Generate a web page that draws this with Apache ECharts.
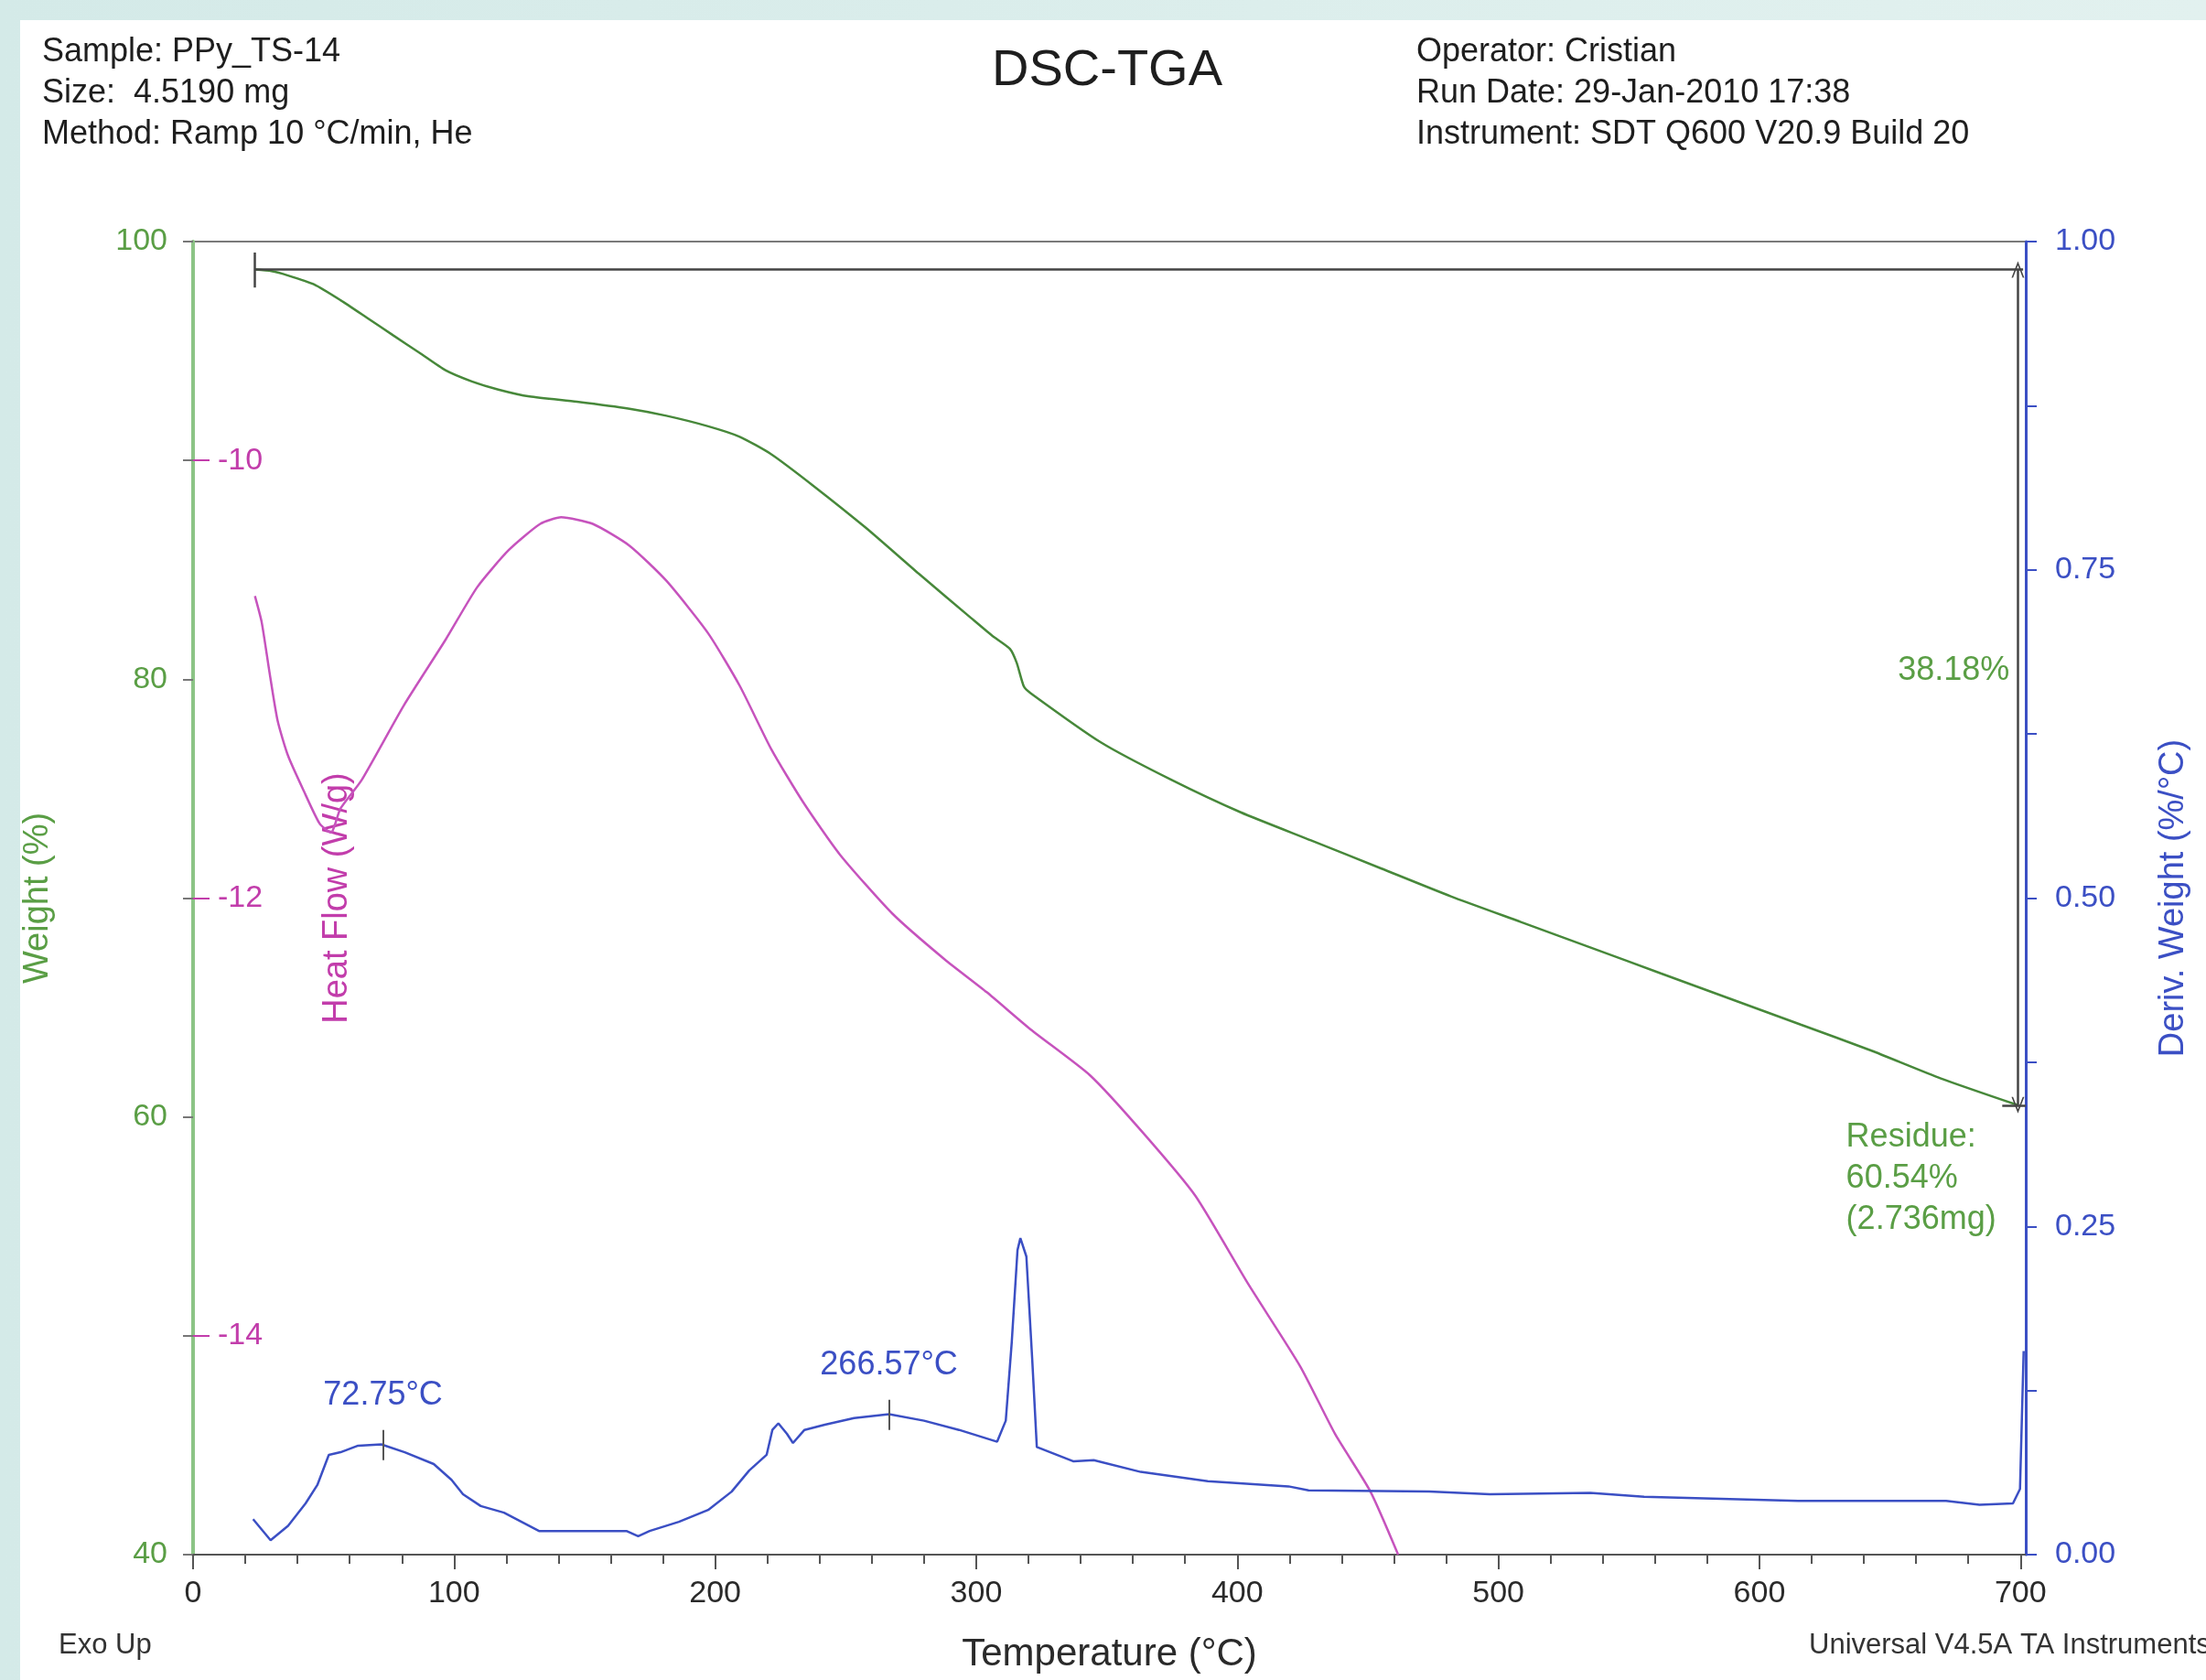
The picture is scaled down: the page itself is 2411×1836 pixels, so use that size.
<!DOCTYPE html>
<html>
<head>
<meta charset="utf-8">
<title>DSC-TGA</title>
<script src="https://cdn.jsdelivr.net/npm/echarts@6/dist/echarts.min.js"></script>
<style>
  html, body { margin: 0; padding: 0; }
  body { width: 2411px; height: 1836px; overflow: hidden; background: linear-gradient(90deg, #d4eae8, #e2f1ef); position: relative; }
  #panel { position: absolute; left: 22px; top: 22px; right: 0; bottom: 0; background: #fff; }
  #chart { position: absolute; left: 0; top: 0; width: 2411px; height: 1836px; }
</style>
</head>
<body>
<div id="panel"></div>
<div id="chart"></div>
<script>
// axis ticks
const tempTicks = [0, 100, 200, 300, 400, 500, 600, 700]
const tempMinorTicks = [0, 20, 40, 60, 80, 100, 120, 140, 160, 180, 200, 220, 240, 260, 280, 300, 320, 340,
  360, 380, 400, 420, 440, 460, 480, 500, 520, 540, 560, 580, 600, 620, 640, 660, 680, 700]
const weightTicks = [40, 50, 60, 70, 80, 90, 100]
const weightLabels = [40, 60, 80, 100]
const heatFlowTicks = [-14, -12, -10]
const derivTicks = [0, 0.125, 0.25, 0.375, 0.5, 0.625, 0.75, 0.875, 1]
const derivLabels = [0, 0.25, 0.5, 0.75, 1]

// TGA weight (%)
const weightTemp = [23.7, 30, 36.4, 46.4, 56.5, 66.6, 76.6, 86.7, 96.7, 106.8, 116.9, 128.9, 147, 167.2, 181.3,
  197.3, 209.4, 221.5, 237.6, 257.7, 277.8, 298, 306, 312.9, 315.5, 318.2, 320.9, 347.7, 374.5, 401.3, 428.2,
  455, 481.8, 508.6, 535.4, 562.2, 589, 615.8, 642.7, 669.5, 699]
const weightPct = [98.72, 98.65, 98.45, 98.04, 97.32, 96.52, 95.72, 94.92, 94.12, 93.61, 93.24, 92.92, 92.68, 92.36, 92.04,
  91.56, 91.08, 90.28, 88.84, 86.92, 84.84, 82.8, 82.0, 81.39, 80.75, 79.68, 79.36, 77.12, 75.42, 73.92, 72.64,
  71.36, 70.08, 68.91, 67.74, 66.56, 65.39, 64.22, 63.04, 61.76, 60.54]

// DSC heat flow (W/g)
const heatTemp = [23.7, 26.3, 29.3, 32.4, 36.4, 42.4, 48.5, 52.8, 56.5, 64.6, 80.7, 96.7, 108.8, 120.9, 133, 141,
  153.1, 167.2, 181.3, 197.3, 209.4, 221.5, 233.6, 247.7, 267.8, 287.9, 304, 320.8, 343.6, 363.7, 383.9, 404,
  424.1, 437.5, 450.9, 461.6]
const heatFlow = [-10.62, -10.74, -10.97, -11.19, -11.35, -11.51, -11.66, -11.70, -11.59, -11.46, -11.12, -10.82, -10.58, -10.41, -10.29, -10.26,
  -10.29, -10.39, -10.55, -10.79, -11.03, -11.32, -11.56, -11.8, -12.07, -12.28, -12.43, -12.6, -12.81, -13.07, -13.36, -13.76,
  -14.14, -14.45, -14.71, -15.0]

// derivative weight (%/°C)
const derivTemp = [23, 29.7, 36.4, 43.1, 47.6, 52, 56.5, 63.2, 72.1, 81.1, 92.2, 99, 103.4, 110.2, 119.1, 132.5,
  166, 170.5, 174.9, 186.1, 197.3, 206.3, 213, 219.7, 221.9, 224.2, 227.5, 229.8, 234.2, 242, 253.2, 266.6,
  280, 293.4, 308, 311.3, 313.6, 315.8, 316.9, 319.2, 321.4, 323.2, 337.3, 345, 363, 388.7, 419.6, 427.3,
  473.5, 496.7, 535.2, 555.8, 614.9, 671.5, 684.3, 697.1, 699.8, 701.2]
const derivWeight = [0.027, 0.011, 0.022, 0.039, 0.053, 0.076, 0.078, 0.083, 0.084, 0.078, 0.069, 0.057, 0.046, 0.037, 0.032, 0.018,
  0.018, 0.014, 0.018, 0.025, 0.034, 0.048, 0.064, 0.076, 0.095, 0.100, 0.092, 0.085, 0.095, 0.099, 0.104, 0.107,
  0.102, 0.095, 0.086, 0.102, 0.162, 0.232, 0.241, 0.227, 0.150, 0.082, 0.071, 0.072, 0.063, 0.056, 0.052, 0.049,
  0.048, 0.046, 0.047, 0.044, 0.041, 0.041, 0.038, 0.039, 0.050, 0.155]

// annotations
const startWeight = 98.72
const residueWeight = 60.54
const peakTemps = [72.75, 266.57]
const peakLevels = [0.084, 0.107]

const GREEN = '#47883a'
const GREEN_TXT = '#5a9e45'
const PINK = '#c653bd'
const PINK_TXT = '#c23dab'
const BLUE = '#3b4fc4'
const FONT = 'Liberation Sans, Arial, sans-serif'

const chevron = 'path://M5,0 L10,12 L8.8,12 L5,3 L1.2,12 L0,12 Z'
const hidden = { color: 'rgba(0,0,0,0)' }

const option = {
  animation: false,
  textStyle: { fontFamily: FONT },
  grid: { left: 211, right: 197, top: 264, bottom: 137, show: true, borderColor: '#7a7a7a', borderWidth: 2 },
  graphic: [
    { type: 'text', left: 46, top: 35, style: { text: 'Sample: PPy_TS-14\nSize:  4.5190 mg\nMethod: Ramp 10 °C/min, He', font: '36px ' + FONT, lineHeight: 45, fill: '#1e1e1e' } },
    { type: 'text', left: 1548, top: 35, style: { text: 'Operator: Cristian\nRun Date: 29-Jan-2010 17:38\nInstrument: SDT Q600 V20.9 Build 20', font: '36px ' + FONT, lineHeight: 45, fill: '#1e1e1e' } },
    { type: 'text', left: 1084, top: 50, style: { text: 'DSC-TGA', font: '56px ' + FONT, fill: '#1e1e1e' } },
    { type: 'text', left: 64, top: 1783, style: { text: 'Exo Up', font: '31px ' + FONT, fill: '#333' } },
    { type: 'text', left: 1977, top: 1783, style: { text: 'Universal V4.5A TA Instruments', font: '31px ' + FONT, fill: '#333' } }
  ],
  xAxis: [{
    type: 'value',
    min: 0,
    max: 702,
    name: 'Temperature (°C)',
    nameLocation: 'middle',
    nameGap: 88,
    nameTextStyle: { fontSize: 42, color: '#2a2a2a' },
    axisLine: { lineStyle: { color: '#555', width: 2 } },
    axisTick: { customValues: tempTicks, length: 16, lineStyle: { color: '#555', width: 2 } },
    axisLabel: { customValues: tempTicks, fontSize: 34, color: '#2a2a2a', margin: 26 },
    splitLine: { show: false }
  }, {
    type: 'value',
    min: 0,
    max: 702,
    position: 'bottom',
    axisLine: { show: false },
    axisTick: { customValues: tempMinorTicks, length: 10, lineStyle: { color: '#555', width: 2 } },
    axisLabel: { show: false },
    splitLine: { show: false }
  }],
  yAxis: [{
    type: 'value',
    position: 'left',
    min: 40,
    max: 100,
    name: 'Weight (%)',
    nameLocation: 'middle',
    nameGap: 150,
    nameTextStyle: { fontSize: 38, color: GREEN_TXT },
    axisLine: { show: true, lineStyle: { color: '#8cc486', width: 4 } },
    axisTick: { customValues: weightTicks, length: 11, lineStyle: { color: '#777', width: 2 } },
    axisLabel: { customValues: weightLabels, fontSize: 34, color: GREEN_TXT, margin: 28 },
    splitLine: { show: false }
  }, {
    type: 'value',
    position: 'left',
    min: -15,
    max: -9,
    name: 'Heat Flow (W/g)',
    nameLocation: 'middle',
    nameGap: -177,
    nameTextStyle: { fontSize: 38, color: PINK_TXT },
    axisLine: { show: false },
    axisTick: { customValues: heatFlowTicks, inside: true, length: 18, lineStyle: { color: PINK_TXT, width: 2 } },
    axisLabel: { customValues: heatFlowTicks, inside: true, fontSize: 34, color: PINK_TXT, margin: 27 },
    splitLine: { show: false }
  }, {
    type: 'value',
    position: 'right',
    min: 0,
    max: 1,
    name: 'Deriv. Weight (%/°C)',
    nameLocation: 'middle',
    nameGap: 143,
    nameRotate: 90,
    nameTextStyle: { fontSize: 38, color: BLUE },
    axisLine: { show: true, lineStyle: { color: BLUE, width: 3 } },
    axisTick: { customValues: derivTicks, length: 12, lineStyle: { color: BLUE, width: 2 } },
    axisLabel: { customValues: derivLabels, fontSize: 34, color: BLUE, margin: 32, formatter: v => v.toFixed(2) },
    splitLine: { show: false }
  }],
  series: [{
    name: 'Weight',
    type: 'line',
    yAxisIndex: 0,
    showSymbol: false,
    smooth: 0.2,
    lineStyle: { color: GREEN, width: 2.5 },
    data: weightTemp.map((t, i) => [t, weightPct[i]]),
    markLine: {
      silent: true,
      symbol: ['none', 'none'],
      label: { show: false },
      lineStyle: { color: '#444', width: 2.5, type: 'solid' },
      data: [
        [{ coord: [23.7, startWeight] }, { coord: [701, startWeight] }],
        [{ coord: [23.7, 99.5] }, { coord: [23.7, 97.9] }],
        [{ coord: [699, startWeight], symbol: chevron, symbolSize: [14, 18] },
          { coord: [699, residueWeight], symbol: chevron, symbolSize: [14, 18] }],
        [{ coord: [693, residueWeight] }, { coord: [702, residueWeight] }]
      ]
    },
    markPoint: {
      silent: true,
      symbol: 'circle',
      symbolSize: 1,
      itemStyle: hidden,
      data: [
        { coord: [696, 80.4], label: { show: true, position: 'left', distance: 0, formatter: (startWeight - residueWeight).toFixed(2) + '%', fontSize: 36, color: GREEN_TXT } },
        { coord: [633, 57.2], label: { show: true, position: 'right', distance: 0, lineHeight: 45, formatter: 'Residue:\n' + residueWeight.toFixed(2) + '%\n(2.736mg)', fontSize: 36, color: GREEN_TXT } }
      ]
    }
  }, {
    name: 'Heat Flow',
    type: 'line',
    yAxisIndex: 1,
    showSymbol: false,
    smooth: 0.2,
    lineStyle: { color: PINK, width: 2.5 },
    data: heatTemp.map((t, i) => [t, heatFlow[i]])
  }, {
    name: 'Deriv. Weight',
    type: 'line',
    yAxisIndex: 2,
    showSymbol: false,
    lineStyle: { color: BLUE, width: 2.5 },
    data: derivTemp.map((t, i) => [t, derivWeight[i]]),
    markLine: {
      silent: true,
      symbol: ['none', 'none'],
      label: { show: false },
      lineStyle: { color: '#555', width: 2, type: 'solid' },
      data: peakTemps.map((t, i) => [{ coord: [t, peakLevels[i] - 0.012] }, { coord: [t, peakLevels[i] + 0.011] }])
    },
    markPoint: {
      silent: true,
      symbol: 'circle',
      symbolSize: 1,
      itemStyle: hidden,
      data: peakTemps.map((t, i) => ({
        coord: [t, peakLevels[i] + 0.037],
        label: { show: true, position: 'inside', formatter: t.toFixed(2) + '°C', fontSize: 36, color: BLUE }
      }))
    }
  }]
}

const myChart = echarts.init(document.getElementById('chart'), null, { renderer: 'canvas' })
myChart.setOption(option)
window.addEventListener('resize', function () {
  myChart.resize()
})
</script>
</body>
</html>
